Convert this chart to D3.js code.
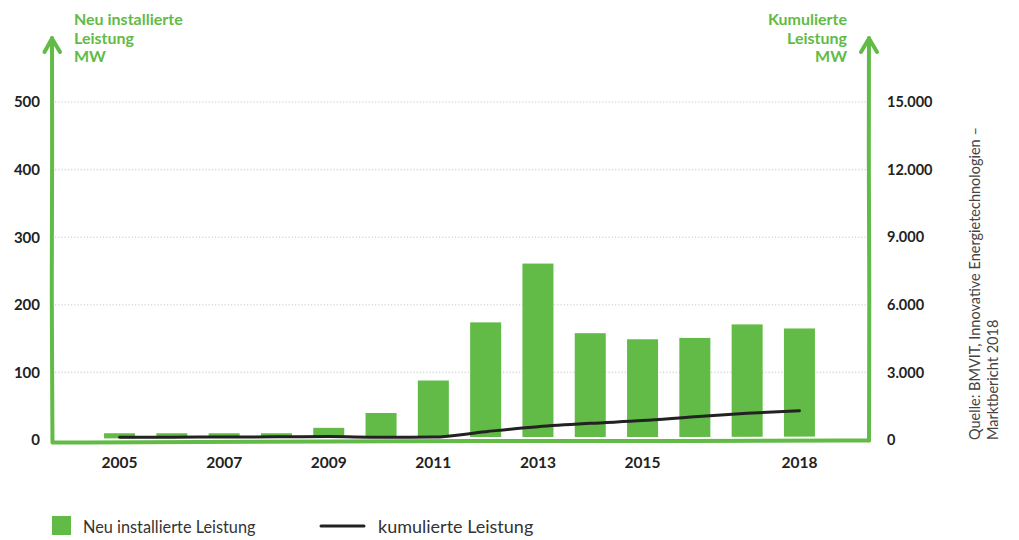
<!DOCTYPE html>
<html><head><meta charset="utf-8">
<script src="https://cdn.jsdelivr.net/npm/d3@7"></script>
<style>
html,body{margin:0;padding:0;background:#fff;}
svg{display:block;font-family:Lato,"Open Sans",sans-serif;}
</style></head>
<body>
<svg id="chart" width="1019" height="540"></svg>
<script>
const years = [2005,2006,2007,2008,2009,2010,2011,2012,2013,2014,2015,2016,2017,2018];
const newCapacity = [10,10,10,10,18,40,88,174,261,158,149,151,171,165];
const cumulative = [120,125,135,140,150,125,130,370,590,740,860,1035,1185,1300];
const xTickYears = [2005,2007,2009,2011,2013,2015,2018];
const leftTicks = [0,100,200,300,400,500];
const rightTicks = [0,3000,6000,9000,12000,15000];
const leftTitle = ["Neu installierte","Leistung","MW"];
const rightTitle = ["Kumulierte","Leistung","MW"];
const sourceLines = ["Quelle: BMVIT, Innovative Energietechnologien –","Marktbericht 2018"];
const legendItems = ["Neu installierte Leistung","kumulierte Leistung"];

const GREEN = "#61bb46";
const svg = d3.select("#chart");

const x = d3.scaleBand().domain(years).range([93.4, 825.6]).paddingInner(0.407).paddingOuter(0.2035);
const yL = d3.scaleLinear().domain([0,500]).range([440,102]);
const yR = d3.scaleLinear().domain([0,15000]).range([440,102]);
const fmt = d3.formatLocale({decimal:",",thousands:".",grouping:[3],currency:["","€"]}).format(",");

const axL = 52, axR = 869;

// gridlines
svg.append("g").selectAll("line").data(leftTicks.filter(d=>d>0)).join("line")
  .attr("x1",axL+3).attr("x2",axR-3)
  .attr("y1",d=>yL(d)).attr("y2",d=>yL(d))
  .attr("stroke","#d9d9d9").attr("stroke-width",1.6).attr("stroke-dasharray","1.2,2");

// bars
svg.append("g").selectAll("rect").data(years).join("rect")
  .attr("x",d=>x(d)).attr("width",x.bandwidth())
  .attr("y",(d,i)=>yL(newCapacity[i]))
  .attr("height",(d,i)=>yL(0)-yL(newCapacity[i]))
  .attr("fill",GREEN);

// hand-drawn-ish axes
const axG = svg.append("g").attr("fill","none").attr("stroke-linecap","round").attr("stroke-linejoin","round");
const base = yL(0)+1.5;
const curve = d3.line().curve(d3.curveBasis);
const basePts = [[axL+2,base+1],[axL+200,base+0.5],[axL+420,base-0.8],[axL+650,base-0.3],[axR,base-1]];
axG.append("path").attr("d",curve(basePts)).attr("stroke","#fff").attr("stroke-width",8);
axG.append("path").attr("d",curve(basePts)).attr("stroke",GREEN).attr("stroke-width",4);
// left vertical
axG.append("path").attr("d",curve([[axL+0.5,base+1],[axL-0.5,300],[axL+0.3,150],[axL,38]]))
  .attr("stroke",GREEN).attr("stroke-width",4);
axG.append("path").attr("d",`M${axL-7.5},52 L${axL},38.5 L${axL+8},52`).attr("stroke",GREEN).attr("stroke-width",4);
// right vertical
axG.append("path").attr("d",curve([[axR,base-1],[axR+0.5,300],[axR-0.4,150],[axR,38]]))
  .attr("stroke",GREEN).attr("stroke-width",4);
axG.append("path").attr("d",`M${axR-8},52 L${axR},38.5 L${axR+8},52`).attr("stroke",GREEN).attr("stroke-width",4);

// cumulative line
svg.append("path").datum(years)
  .attr("d",d3.line().x(d=>x(d)+x.bandwidth()/2).y((d,i)=>yR(cumulative[i])).curve(d3.curveMonotoneX))
  .attr("fill","none").attr("stroke","#222").attr("stroke-width",3).attr("stroke-linecap","round");

// left tick labels
svg.append("g").selectAll("text").data(leftTicks).join("text")
  .attr("x",40).attr("y",d=>yL(d)).attr("dy","0.36em").attr("text-anchor","end")
  .attr("font-size",15).attr("font-weight",700).attr("fill","#222").text(d=>d);
// right tick labels
svg.append("g").selectAll("text").data(rightTicks).join("text")
  .attr("x",887).attr("y",d=>yR(d)).attr("dy","0.36em").attr("text-anchor","start")
  .attr("font-size",14.5).attr("font-weight",700).attr("fill","#222").text(d=>fmt(d));
// x labels
svg.append("g").selectAll("text").data(xTickYears).join("text")
  .attr("x",d=>x(d)+x.bandwidth()/2).attr("y",468).attr("text-anchor","middle")
  .attr("font-size",15.5).attr("font-weight",700).attr("fill","#222").text(d=>d);

// titles
svg.append("g").selectAll("text").data(leftTitle).join("text")
  .attr("x",74).attr("y",(d,i)=>25+i*18.5).attr("font-size",16).attr("font-weight",700)
  .attr("fill",GREEN).text(d=>d);
svg.append("g").selectAll("text").data(rightTitle).join("text")
  .attr("x",847).attr("y",(d,i)=>25+i*18.5).attr("text-anchor","end").attr("font-size",16).attr("font-weight",700)
  .attr("fill",GREEN).text(d=>d);

// source
svg.append("g").selectAll("text").data(sourceLines).join("text")
  .attr("transform",(d,i)=>`translate(${979.5+i*18},440) rotate(-90)`)
  .attr("font-size",14.5).attr("font-weight",400).attr("fill","#444").text(d=>d);

// legend
const lg = svg.append("g");
lg.append("rect").attr("x",52).attr("y",516).attr("width",19).attr("height",19).attr("fill",GREEN);
lg.append("text").attr("x",83).attr("y",533).attr("font-size",16.3).attr("fill","#333").text(legendItems[0]);
lg.append("line").attr("x1",321).attr("x2",364).attr("y1",526).attr("y2",526)
  .attr("stroke","#222").attr("stroke-width",3).attr("stroke-linecap","round");
lg.append("text").attr("x",378).attr("y",533).attr("font-size",18).attr("fill","#333").text(legendItems[1]);
</script>
</body></html>
